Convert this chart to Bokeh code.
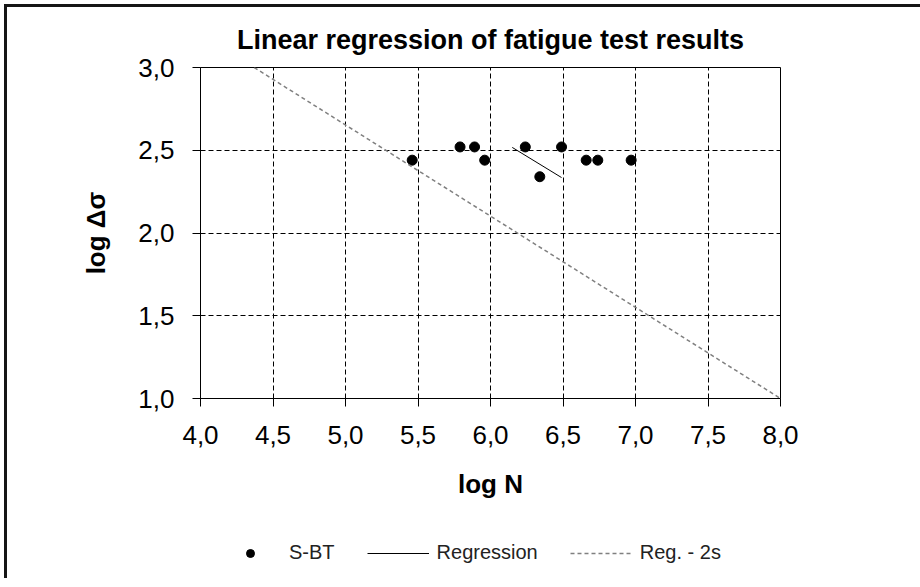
from bokeh.plotting import figure
from bokeh.layouts import column
from bokeh.models import (FixedTicker, CustomJSTickFormatter, Legend, LegendItem,
                          ColumnDataSource, Range1d)
from bokeh.embed import file_html
from bokeh.resources import INLINE

# data
log_n = [5.46, 5.79, 5.89, 5.96, 6.24, 6.34, 6.49, 6.66, 6.74, 6.97]
log_ds = [2.44, 2.52, 2.52, 2.44, 2.52, 2.34, 2.52, 2.44, 2.44, 2.44]
reg_x = [6.15, 6.49]
reg_y = [2.517, 2.335]
reg2s_x = [4.37, 8.0]
reg2s_y = [3.0, 1.0]
x_ticks = [4.0, 4.5, 5.0, 5.5, 6.0, 6.5, 7.0, 7.5, 8.0]
y_ticks = [1.0, 1.5, 2.0, 2.5, 3.0]
legend_labels = ["S-BT", "Regression", "Reg. - 2s"]

FONT = "Liberation Sans"

p = figure(frame_width=580, frame_height=331, output_backend="svg", toolbar_location=None,
           x_range=Range1d(4.0, 8.0), y_range=Range1d(1.0, 3.0),
           min_border_left=193, min_border_right=140, min_border_top=60,
           min_border_bottom=130, title="Linear regression of fatigue test results")

p.title.align = "center"
p.title.text_font = FONT
p.title.text_font_size = "27px"
p.title.text_font_style = "bold"
p.title.text_color = "black"
p.title.standoff = 26

p.outline_line_color = "black"
p.outline_line_width = 1
p.background_fill_color = "white"
p.border_fill_color = "white"

fmt = CustomJSTickFormatter(code="return tick.toFixed(1).replace('.', ',');")
for ax, ticks in ((p.xaxis[0], x_ticks), (p.yaxis[0], y_ticks)):
    ax.ticker = FixedTicker(ticks=ticks)
    ax.formatter = fmt
    ax.minor_tick_line_color = None
    ax.major_tick_in = 0
    ax.major_tick_out = 8
    ax.major_tick_line_color = "black"
    ax.axis_line_color = "black"
    ax.major_label_text_font = FONT
    ax.major_label_text_font_size = "26px"
    ax.major_label_text_color = "black"
    ax.axis_label_text_font = FONT
    ax.axis_label_text_font_size = "26px"
    ax.axis_label_text_font_style = "bold"
    ax.axis_label_text_color = "black"

p.xaxis.major_label_standoff = 19
p.yaxis.major_label_standoff = 18
p.xaxis.axis_label = "log N"
p.yaxis.axis_label = "log Δσ"
p.xaxis.axis_label_standoff = 22
p.yaxis.axis_label_standoff = 24

for g in (p.xgrid[0], p.ygrid[0]):
    g.grid_line_color = "black"
    g.grid_line_dash = "5 3"
    g.grid_line_width = 1
p.xgrid.ticker = FixedTicker(ticks=x_ticks)
p.ygrid.ticker = FixedTicker(ticks=y_ticks)

PTS = dict(size=10, color="black")
REG = dict(line_color="black", line_width=1)
R2S = dict(line_color="#808080", line_width=1.5, line_dash="4 3")

src = ColumnDataSource(dict(x=log_n, y=log_ds))
p.scatter("x", "y", source=src, **PTS)
p.line(reg_x, reg_y, **REG)
p.line(reg2s_x, reg2s_y, **R2S)

# legend strip below the chart (its own figure, so the legend is not clipped)
leg = figure(frame_width=580, frame_height=50, output_backend="svg", toolbar_location=None,
             x_axis_type=None, y_axis_type=None,
             x_range=Range1d(0, 580), y_range=Range1d(100, 150),
             min_border_left=193, min_border_right=140, min_border_top=0,
             min_border_bottom=0)
leg.outline_line_color = None
leg.xgrid.visible = False
leg.ygrid.visible = False
leg.background_fill_color = "white"
leg.border_fill_color = "white"
l_pts = leg.scatter(log_n, log_ds, **PTS)
l_reg = leg.line(reg_x, reg_y, **REG)
l_2s = leg.line(reg2s_x, reg2s_y, **R2S)

legend = Legend(items=[LegendItem(label=legend_labels[0], renderers=[l_pts]),
                       LegendItem(label=legend_labels[1], renderers=[l_reg]),
                       LegendItem(label=legend_labels[2], renderers=[l_2s])],
                orientation="horizontal", location=(19, 14),
                glyph_width=62, glyph_height=20, label_standoff=8, spacing=32,
                padding=0, margin=0, border_line_color=None,
                background_fill_alpha=0,
                label_text_font=FONT, label_text_font_size="20px",
                label_text_color="#222222")
leg.add_layout(legend, "center")

layout = column(p, leg, spacing=0,
                styles={"margin-left": "4px", "margin-top": "4px",
                        "border-top": "3px solid #151515",
                        "border-left": "3px solid #151515"})

open("out.html", "w").write(file_html(layout, INLINE))
